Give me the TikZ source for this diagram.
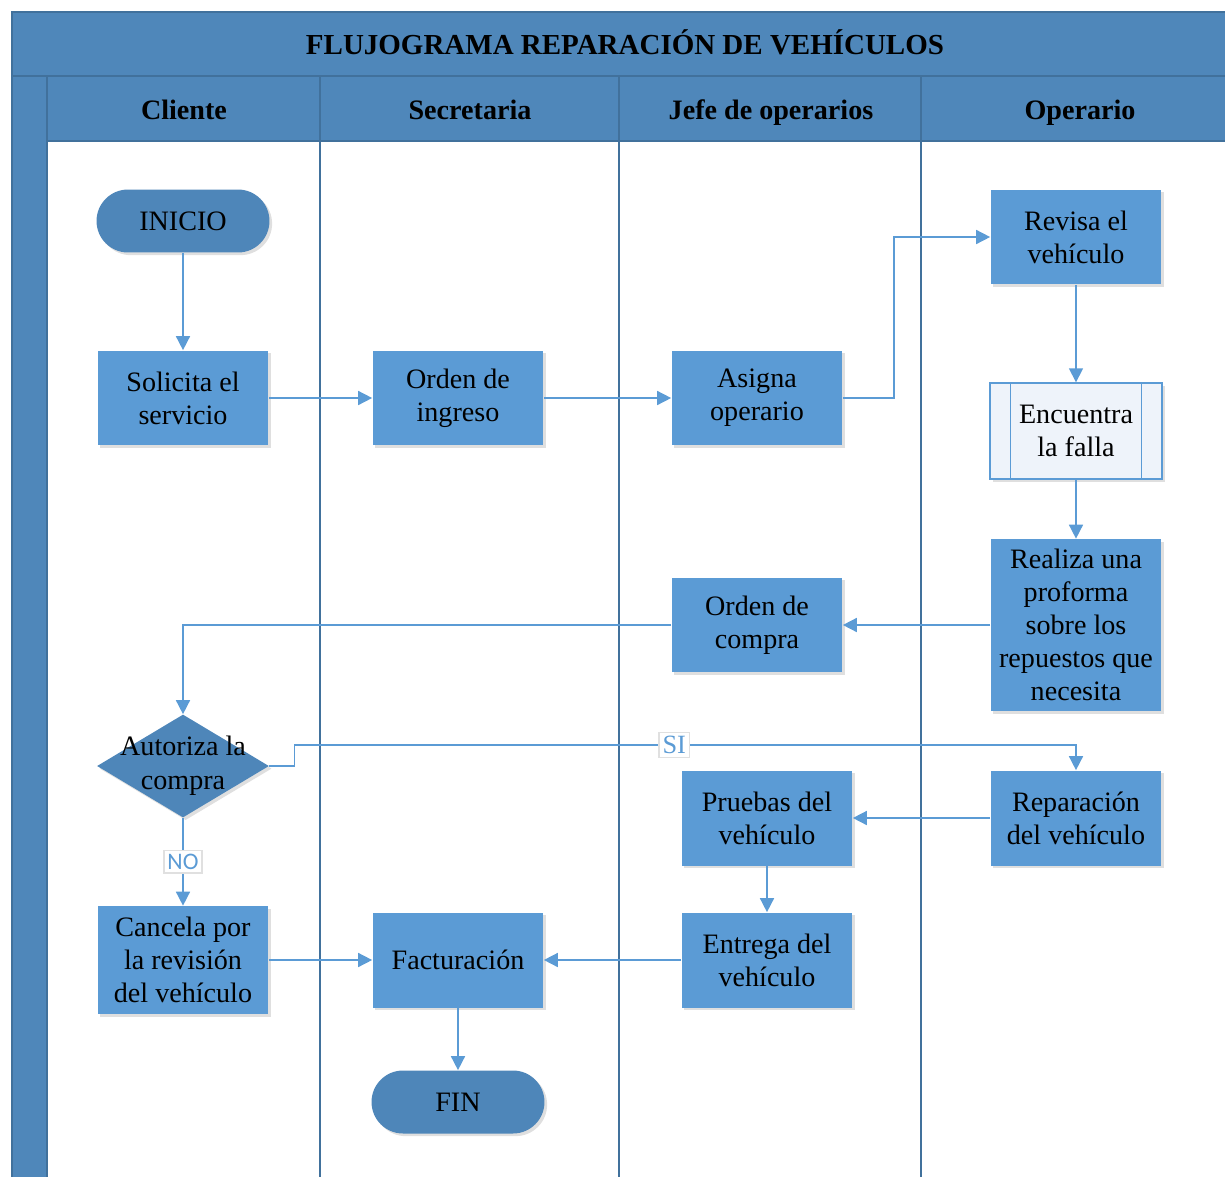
\documentclass[tikz,border=0pt]{standalone}
\usepackage{fontspec}
\setmainfont{Liberation Serif}
\newfontfamily\lblfont{Carlito}
\usepackage{tikz}
\usetikzlibrary{arrows.meta,shapes.geometric,shadows}
\definecolor{hdrblue}{RGB}{79,135,186}
\definecolor{boxblue}{RGB}{91,155,213}
\definecolor{termblue}{RGB}{78,134,185}
\definecolor{laneline}{RGB}{65,113,156}
\definecolor{subfill}{RGB}{238,243,250}
\tikzset{
  fl_node/.style = {align=center, inner sep=0pt, text=black,
    font=\fontsize{16}{18.7}\selectfont,
    drop shadow={opacity=0.25, shadow xshift=1.5pt, shadow yshift=-1.5pt}},
  fl_box/.style = {fl_node, rectangle, fill=boxblue,
    minimum width=3.42cm, minimum height=1.9cm},% proceso
  fl_term/.style = {fl_node, rectangle, rounded corners=0.63cm, fill=termblue,
    minimum width=3.46cm, minimum height=1.26cm},% inicio / fin
  fl_sub/.style = {fl_node, rectangle, fill=subfill, draw=boxblue, thick,
    minimum width=3.44cm, minimum height=1.92cm},% subproceso
  fl_dec/.style = {fl_node, diamond, fill=termblue,
    minimum width=3.44cm, minimum height=2.06cm},% decision
  fl_text/.style = {align=center, text=black, font=\fontsize{16}{19.5}\selectfont},
  hdr_text/.style = {text=black, font=\fontsize{16}{18}\selectfont\bfseries,
    text height=11pt, text depth=3.5pt},
  lane_line/.style = {draw=laneline, line width=1.1pt},
  fl_lbl/.style = {fill=white, draw=black!12, text=boxblue, inner sep=2pt,
    font=\lblfont\fontsize{13.5}{15}\selectfont},
}

\begin{document}
\begin{tikzpicture}[x=0.02cm,y=-0.02cm,
  fl_arrow/.style={draw=boxblue, line width=0.9pt, -{Triangle[length=8pt,width=8pt]}}]
  \clip (0,0) rectangle (1225,1177);

  % marco y carriles
  \fill[hdrblue] (12,12) rectangle (1240,141);
  \fill[hdrblue] (12,76) rectangle (47,1190);
  \draw[lane_line] (1240,12) -- (12,12) -- (12,1190);
  \draw[lane_line] (12,76) -- (1240,76);
  \draw[lane_line] (47,141) -- (1240,141);
  \draw[lane_line] (47,76) -- (47,1190);
  \foreach \x in {320,619,921}
    \draw[lane_line] (\x,76) -- (\x,1190);

  \node[hdr_text, font=\fontsize{16.5}{18}\selectfont\bfseries] (title) at (625,48)
    {FLUJOGRAMA REPARACIÓN DE VEHÍCULOS};
  \node[hdr_text] (h_cli) at (184,113) {Cliente};
  \node[hdr_text] (h_sec) at (470,113) {Secretaria};
  \node[hdr_text] (h_jef) at (771,113) {Jefe de operarios};
  \node[hdr_text] (h_ope) at (1080,113) {Operario};

  % Cliente
  \node[fl_term] (ini) at (183,221) {INICIO};
  \node[fl_box] (sol) at (183,398) {Solicita el\\servicio};
  \node[fl_dec] (autz) at (183,766) {};
  \node[fl_text] (autz_t) at (autz.center) {Autoriza la\\compra};
  \node[fl_box, minimum height=2.16cm] (canc) at (183,960) {Cancela por\\la revisión\\del vehículo};

  % Secretaria
  \node[fl_box] (ording) at (458,398) {Orden de\\ingreso};
  \node[fl_box] (fact) at (458,960) {Facturación};
  \node[fl_term] (fin) at (458,1102) {FIN};

  % Jefe de operarios
  \node[fl_box] (asig) at (757,398) {Asigna\\operario};
  \node[fl_box] (ordcom) at (757,625) {Orden de\\compra};
  \node[fl_box] (prue) at (767,818) {Pruebas del\\vehículo};
  \node[fl_box] (entr) at (767,960) {Entrega del\\vehículo};

  % Operario
  \node[fl_box] (rev) at (1076,237) {Revisa el\\vehículo};
  \node[fl_sub] (enc) at (1076,431) {Encuentra\\la falla};
  \draw[draw=boxblue, thick] ([xshift=0.42cm]enc.north west) -- ([xshift=0.42cm]enc.south west);
  \draw[draw=boxblue, thick] ([xshift=-0.42cm]enc.north east) -- ([xshift=-0.42cm]enc.south east);
  \node[fl_box, minimum height=3.44cm] (prof) at (1076,625)
    {Realiza una\\proforma\\sobre los\\repuestos que\\necesita};
  \node[fl_box] (repa) at (1076,818) {Reparación\\del vehículo};

  % conectores
  \draw[fl_arrow] (ini) -- (sol);
  \draw[fl_arrow] (sol) -- (ording);
  \draw[fl_arrow] (ording) -- (asig);
  \draw[fl_arrow] (asig.east) -- ++(51,0) |- (rev.west);
  \draw[fl_arrow] (rev) -- (enc);
  \draw[fl_arrow] (enc) -- (prof);
  \draw[fl_arrow] (prof) -- (ordcom);
  \draw[fl_arrow] (ordcom.west) -| (autz.north);
  \draw[fl_arrow] (autz.east) -- ++(25,0) -- ++(0,-21)
    -| node[fl_lbl, font=\fontsize{15}{16}\selectfont, pos=0.243] {SI} (repa.north);
  \draw[fl_arrow] (autz.south) -- node[fl_lbl] {NO} (canc.north);
  \draw[fl_arrow] (repa) -- (prue);
  \draw[fl_arrow] (prue) -- (entr);
  \draw[fl_arrow] (entr) -- (fact);
  \draw[fl_arrow] (canc) -- (fact);
  \draw[fl_arrow] (fact) -- (fin);
\end{tikzpicture}
\end{document}
